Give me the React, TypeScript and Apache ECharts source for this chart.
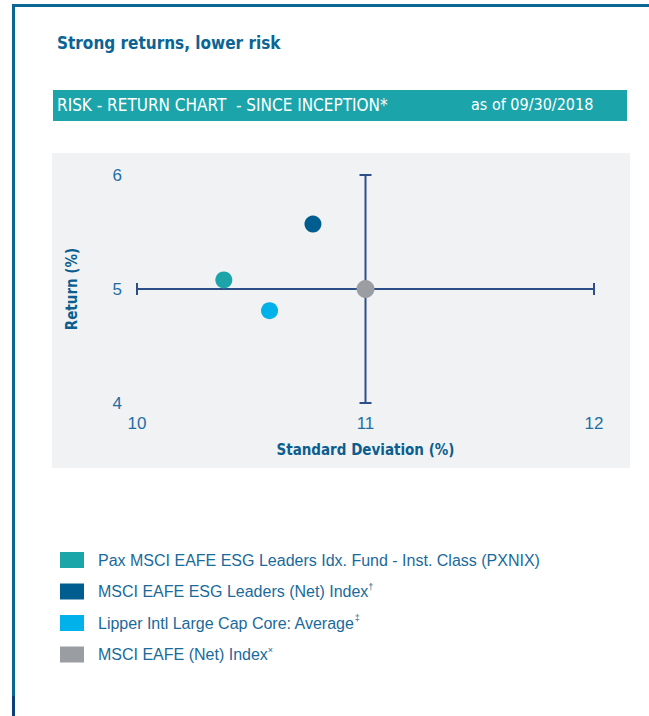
import React, { useEffect, useRef } from "react";
import * as echarts from "echarts";

const seriesNames = [
  "Pax MSCI EAFE ESG Leaders Idx. Fund - Inst. Class (PXNIX)",
  "MSCI EAFE ESG Leaders (Net) Index",
  "Lipper Intl Large Cap Core: Average",
  "MSCI EAFE (Net) Index",
];
const nameSuffix = ["", "†", "‡", "×"];
const stdDev = [10.38, 10.77, 10.58, 11.0];
const returns = [5.08, 5.57, 4.81, 5.0];
const colors = ["#1ba5a9", "#005d8f", "#00b2e9", "#9a9da2"];
const xTicks = [10, 11, 12];
const yTicks = [4, 5, 6];
const crossCenter = [11, 5];

const FONT = "DejaVu Sans Condensed, Liberation Sans Narrow, sans-serif";
const BODY_FONT = "Liberation Sans, Arial, sans-serif";

export default function App() {
  const ref = useRef<HTMLDivElement>(null);
  useEffect(() => {
    if (!ref.current) return;
    const chart = echarts.init(ref.current, undefined, { renderer: "svg" });
    const cross = "#2b4f86";
    const option: any = {
      animation: false,
      backgroundColor: "#ffffff",
      graphic: [
        { type: "rect", shape: { x: 12, y: 4, width: 637, height: 3 }, style: { fill: "#0b6595" } },
        { type: "rect", shape: { x: 12, y: 4, width: 3, height: 692 }, style: { fill: "#0b6595" } },
        { type: "rect", shape: { x: 12, y: 696, width: 3, height: 20 }, style: { fill: "#0d3f7a" } },
        { type: "rect", z: -10, shape: { x: 52, y: 153, width: 578, height: 315 }, style: { fill: "#f1f2f4" } },
        { type: "rect", shape: { x: 53, y: 90, width: 574, height: 31 }, style: { fill: "#1ba5ab" } },
        {
          type: "text", x: 57, y: 43,
          style: { text: "Strong returns, lower risk", fill: "#0b6494", font: `bold 17px ${FONT}`, textVerticalAlign: "middle" },
        },
        {
          type: "text", x: 57, y: 105,
          style: { text: "RISK - RETURN CHART  - SINCE INCEPTION*", fill: "#ffffff", font: `17px ${FONT}`, textVerticalAlign: "middle" },
        },
        {
          type: "text", x: 471, y: 104,
          style: { text: "as of 09/30/2018", fill: "#ffffff", font: `16px ${FONT}`, textVerticalAlign: "middle" },
        },
      ],
      grid: { left: 137, right: 55, top: 175, bottom: 313 },
      xAxis: {
        type: "value", min: xTicks[0], max: xTicks[xTicks.length - 1], interval: 1,
        name: "Standard Deviation (%)", nameLocation: "middle", nameGap: 39,
        nameTextStyle: { color: "#0b5e8e", fontFamily: FONT, fontWeight: "bold", fontSize: 15 },
        axisLine: { show: false }, axisTick: { show: false }, splitLine: { show: false },
        axisLabel: { color: "#1f6ea3", fontSize: 17, fontFamily: BODY_FONT, margin: 12 },
      },
      yAxis: {
        type: "value", min: yTicks[0], max: yTicks[yTicks.length - 1], interval: 1,
        name: "Return (%)", nameLocation: "middle", nameGap: 58, nameRotate: 90,
        nameTextStyle: { color: "#0b5e8e", fontFamily: FONT, fontWeight: "bold", fontSize: 15 },
        axisLine: { show: false }, axisTick: { show: false }, splitLine: { show: false },
        axisLabel: { color: "#1f6ea3", fontSize: 17, fontFamily: BODY_FONT, margin: 15 },
      },
      legend: {
        orient: "vertical", left: 60, top: 552, padding: 0, itemWidth: 24, itemHeight: 16, itemGap: 14,
        icon: "rect",
        data: seriesNames,
        formatter: (n: string) => {
          const i = seriesNames.indexOf(n);
          return nameSuffix[i] ? `${n}{sup|${nameSuffix[i]}}` : n;
        },
        textStyle: {
          color: "#1a6a9a", fontSize: 16, fontFamily: BODY_FONT, padding: [0, 0, 0, 9],
          rich: { sup: { fontSize: 9, color: "#1a6a9a", verticalAlign: "top", padding: [0, 0, 10, 0] } },
        },
      },
      series: [
        {
          type: "line", silent: true, symbol: "none", z: 1,
          lineStyle: { color: cross, width: 2 },
          data: [[xTicks[0], crossCenter[1]], [xTicks[2], crossCenter[1]]],
        },
        {
          type: "line", silent: true, symbol: "none", z: 1,
          lineStyle: { color: cross, width: 2 },
          data: [[crossCenter[0], yTicks[0]], [crossCenter[0], yTicks[2]]],
        },
        {
          type: "scatter", silent: true, symbol: "rect", symbolSize: [2, 12], z: 1,
          itemStyle: { color: cross, opacity: 1 },
          data: [[xTicks[0], crossCenter[1]], [xTicks[2], crossCenter[1]]],
        },
        {
          type: "scatter", silent: true, symbol: "rect", symbolSize: [12, 2], z: 1,
          itemStyle: { color: cross, opacity: 1 },
          data: [[crossCenter[0], yTicks[0]], [crossCenter[0], yTicks[2]]],
        },
        ...seriesNames.map((n, i) => ({
          type: "scatter", name: n, z: 5,
          symbolSize: i === 3 ? 18 : 17,
          itemStyle: { color: colors[i], opacity: 1 },
          data: [[stdDev[i], returns[i]]],
        })),
      ],
    };
    chart.setOption(option);
    return () => chart.dispose();
  }, []);
  return <div ref={ref} style={{ position: "fixed", left: 0, top: 0, width: 649, height: 716 }} />;
}
